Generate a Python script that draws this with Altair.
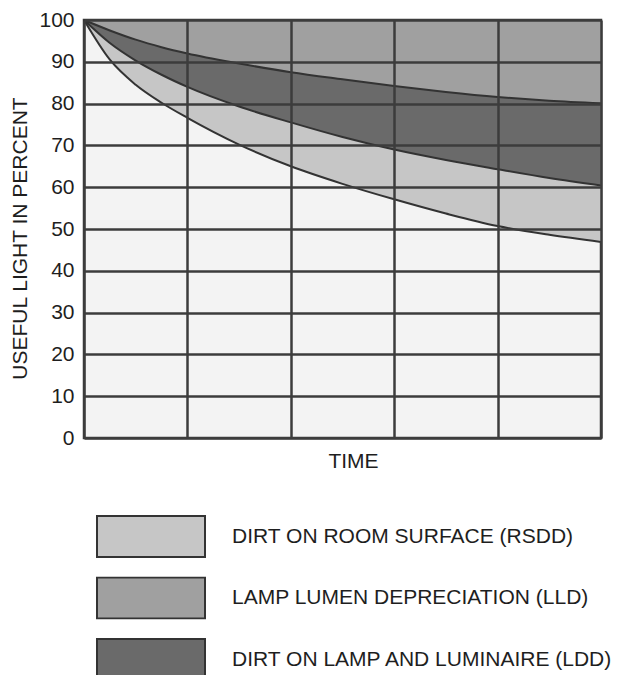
import altair as alt
import pandas as pd

# ---- data ----
time = [0, 0.25, 0.5, 0.75, 1, 1.5, 2, 2.5, 3, 3.5, 4, 4.5, 5]
upper = [100, 97.5, 95.3, 93.5, 92.0, 89.6, 87.5, 85.8, 84.2, 82.8, 81.6, 80.7, 80.1]   # after LLD
middle = [100, 94.5, 90.3, 86.9, 84.0, 79.3, 75.5, 72.0, 69.0, 66.5, 64.3, 62.2, 60.4]  # after LLD + LDD
lower = [100, 90.5, 84.5, 80.2, 76.6, 70.2, 65.0, 60.8, 57.1, 53.7, 50.7, 48.6, 46.9]   # after all (RSDD)
top = [100] * len(time)

bands = [
    "DIRT ON ROOM SURFACE (RSDD)",
    "LAMP LUMEN DEPRECIATION (LLD)",
    "DIRT ON LAMP AND LUMINAIRE (LDD)",
]
band_colors = ["#c6c6c6", "#a0a0a0", "#6a6a6a"]
y_ticks = list(range(0, 101, 10))
x_ticks = [0, 1, 2, 3, 4, 5]

FONT = "Liberation Sans"
INK = "#1e1e1e"
GRID = "#3c3c3c"

rows = []
for i, t in enumerate(time):
    rows.append({"time": t, "band": bands[1], "lo": upper[i], "hi": top[i]})
    rows.append({"time": t, "band": bands[2], "lo": middle[i], "hi": upper[i]})
    rows.append({"time": t, "band": bands[0], "lo": lower[i], "hi": middle[i]})
area_df = pd.DataFrame(rows)

line_rows = []
for name, vals in [("upper", upper), ("middle", middle), ("lower", lower)]:
    for t, v in zip(time, vals):
        line_rows.append({"time": t, "curve": name, "v": v})
line_df = pd.DataFrame(line_rows)

x_scale = alt.Scale(domain=[0, 5], nice=False, zero=False)
y_scale = alt.Scale(domain=[0, 100], nice=False)

x_axis = alt.Axis(
    values=x_ticks, labels=False, ticks=False, domain=False,
    grid=True, gridColor=GRID, gridWidth=2.5, gridOpacity=1,
    title="TIME", titleFont=FONT, titleFontSize=21, titleFontWeight="normal",
    titleColor=INK, titlePadding=12, titleX=269, zindex=1,
)
y_axis = alt.Axis(
    values=y_ticks, ticks=False, domain=False, tickSize=0,
    grid=True, gridColor=GRID, gridWidth=2.5, gridOpacity=1,
    labelFont=FONT, labelFontSize=21, labelColor=INK, labelPadding=10,
    title="USEFUL LIGHT IN PERCENT", titleFont=FONT, titleFontSize=21,
    titleFontWeight="normal", titleColor=INK,
    titleX=-58, titleY=218, titleAlign="center", titleBaseline="alphabetic",
    zindex=1,
)

areas = alt.Chart(area_df).mark_area(interpolate="monotone").encode(
    x=alt.X("time:Q", scale=x_scale, axis=x_axis),
    y=alt.Y("lo:Q", scale=y_scale, axis=y_axis, stack=None),
    y2=alt.Y2("hi:Q"),
    color=alt.Color(
        "band:N",
        scale=alt.Scale(domain=bands, range=band_colors),
        legend=alt.Legend(
            title=None, orient="none", legendX=12, legendY=495,
            direction="vertical", padding=0,
            symbolType="M-1,-0.38H1V0.38H-1Z", symbolSize=11664,
            symbolStrokeColor="#333333", symbolStrokeWidth=2,
            symbolOpacity=1,
            clipHeight=43, rowPadding=18.5, labelOffset=26,
            labelFont=FONT, labelFontSize=21, labelColor=INK,
            labelLimit=500,
        ),
    ),
)

lines = alt.Chart(line_df).mark_line(
    interpolate="monotone", color="#333333", strokeWidth=2
).encode(
    x=alt.X("time:Q", scale=x_scale),
    y=alt.Y("v:Q", scale=y_scale),
    detail="curve:N",
)

chart = (
    alt.layer(areas, lines)
    .properties(
        width=517, height=418,
        autosize=alt.AutoSizeParams(type="none"),
        padding={"left": 76, "top": 12, "right": 20, "bottom": 237},
        background="white",
    )
    .configure_view(fill="#f3f3f3", stroke=GRID, strokeWidth=2.5)
)

chart.save("out.html", embed_options={"renderer": "svg", "actions": False})
